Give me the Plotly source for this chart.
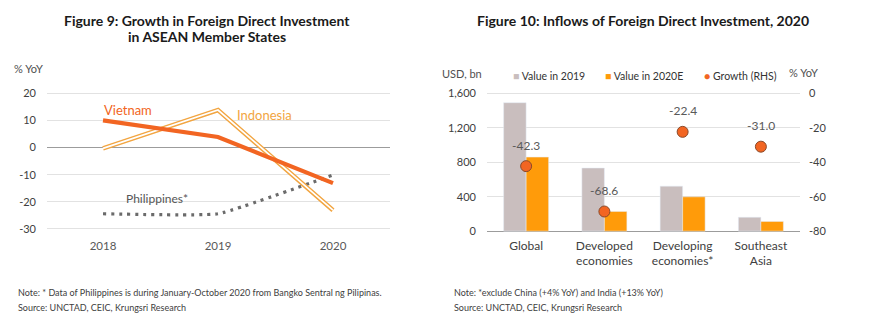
import plotly.graph_objects as go

# ---- Figure 9: FDI growth in ASEAN member states (% YoY) ----
years = ["2018", "2019", "2020"]
vietnam = [10.0, 3.9, -13.1]
indonesia = [-0.3, 13.8, -23.1]
philippines = [-24.4, -24.4, -10.1]
left_ticks = [20, 10, 0, -10, -20, -30]

# ---- Figure 10: FDI inflows 2020 ----
regions = ["Global", "Developed<br>economies", "Developing<br>economies*", "Southeast<br>Asia"]
value_2019 = [1490, 732, 522, 161]
value_2020e = [859, 229, 398, 113]
growth = [-42.3, -68.6, -22.4, -31.0]
bar_ticks = [0, 400, 800, 1200, 1600]
growth_ticks = [0, -20, -40, -60, -80]

W, H = 870, 326
FONT = "Lato"
TICK_COLOR = "#404040"
GRID = "#E2E2E2"
ZERO = "#9C9C9C"

VIETNAM_C = "#F26522"
INDO_C = "#F2A541"
PHIL_C = "#6B6B6B"
BAR19_C = "#C9BEBE"
BAR20_C = "#FF9B0A"
DOT_C = "#F26522"


def px(x):
    return x / W


def py(y):
    return 1 - y / H


def fmt(v):
    # plain hyphen for negatives, thousands separator
    return f"{v:,}"


fig = go.Figure()

# left chart lines
fig.add_trace(go.Scatter(
    x=years, y=philippines, mode="lines", xaxis="x", yaxis="y",
    line=dict(color=PHIL_C, width=3.2, dash="3px,5px", shape="spline", smoothing=0.35),
    showlegend=False, hoverinfo="skip"))
fig.add_trace(go.Scatter(
    x=years, y=indonesia, mode="lines", xaxis="x", yaxis="y",
    line=dict(color=INDO_C, width=4.6), showlegend=False))
fig.add_trace(go.Scatter(
    x=years, y=indonesia, mode="lines", xaxis="x", yaxis="y",
    line=dict(color="white", width=1.7), showlegend=False, hoverinfo="skip"))
fig.add_trace(go.Scatter(
    x=years, y=vietnam, mode="lines", xaxis="x", yaxis="y",
    line=dict(color=VIETNAM_C, width=4.2), showlegend=False))

# right chart bars and growth markers
fig.add_trace(go.Bar(
    x=regions, y=value_2019, name="Value in 2019", marker_color=BAR19_C,
    xaxis="x2", yaxis="y2", showlegend=False))
fig.add_trace(go.Bar(
    x=regions, y=value_2020e, name="Value in 2020E", marker_color=BAR20_C,
    xaxis="x2", yaxis="y2", showlegend=False))
fig.add_trace(go.Scatter(
    x=regions, y=growth, name="Growth (RHS)", mode="markers",
    marker=dict(color=DOT_C, size=11, line=dict(color="#8A4A2A", width=1)),
    xaxis="x2", yaxis="y3", showlegend=False))

tick_font = dict(family=FONT, size=11, color=TICK_COLOR)

annotations = [
    # titles
    dict(text="<b>Figure 9: Growth in Foreign Direct Investment</b>", x=px(207), y=py(15)),
    dict(text="<b>in ASEAN Member States</b>", x=px(207), y=py(31)),
    dict(text="<b>Figure 10: Inflows of Foreign Direct Investment, 2020</b>", x=px(643), y=py(15)),
]
for a in annotations:
    a.update(xref="paper", yref="paper", showarrow=False, xanchor="center", yanchor="middle",
             font=dict(family=FONT, size=14, color="#1A1A1A"))

small = [
    dict(text="% YoY", x=px(12), y=py(64), xanchor="left"),
    dict(text="USD, bn", x=px(440), y=py(70), xanchor="left"),
    dict(text="% YoY", x=px(820), y=py(69), xanchor="right"),
]
for a in small:
    a.update(xref="paper", yref="paper", showarrow=False, yanchor="middle",
             font=dict(family=FONT, size=11, color="#505050"))
annotations += small

# series labels on the left chart
annotations += [
    dict(text="Vietnam", x=-0.01, y=13.9, xref="x", yref="y", xanchor="left",
         font=dict(family=FONT, size=13, color=VIETNAM_C)),
    dict(text="Indonesia", x=1.148, y=12.1, xref="x", yref="y", xanchor="left",
         font=dict(family=FONT, size=13, color=INDO_C)),
    dict(text="Philippines*", x=0.183, y=-18.9, xref="x", yref="y", xanchor="left",
         font=dict(family=FONT, size=12, color="#555555")),
]

# value labels above the growth markers
for r, g in zip(regions, growth):
    annotations.append(dict(text=f"{g:.1f}", x=r, y=g, xref="x2", yref="y3",
                            yshift=21, font=dict(family=FONT, size=12, color="#595959")))

# legend for the right chart
legend_items = [
    (516, "■", BAR19_C, "Value in 2019"),
    (608, "■", BAR20_C, "Value in 2020E"),
    (707, "●", DOT_C, "Growth (RHS)"),
]
for x0, sym, col, label in legend_items:
    annotations.append(dict(
        text=f"<span style='color:{col}'>{sym}</span> {label}",
        x=px(x0 - 5), y=py(72), xref="paper", yref="paper", xanchor="left", yanchor="middle",
        font=dict(family=FONT, size=10.5, color="#333333")))

# notes
note_font = dict(family=FONT, size=9, color="#404040")
notes = [
    ("Note: * Data of Philippines is during January-October 2020 from Bangko Sentral ng Pilipinas.", 16, 296),
    ("Source: UNCTAD, CEIC, Krungsri Research", 16, 311),
    ("Note: *exclude China (+4% YoY) and India (+13% YoY)", 452, 296),
    ("Source: UNCTAD, CEIC, Krungsri Research", 452, 311),
]
for t, x0, y0 in notes:
    annotations.append(dict(text=t, x=px(x0), y=py(y0), xref="paper", yref="paper",
                            xanchor="left", yanchor="middle", font=note_font))

for a in annotations:
    a.setdefault("showarrow", False)

fig.update_layout(
    width=W, height=H,
    margin=dict(l=0, r=0, t=0, b=0),
    paper_bgcolor="white", plot_bgcolor="white",
    barmode="group", bargap=0.425, bargroupgap=0,
    annotations=annotations,
    xaxis=dict(domain=[px(47), px(390)], anchor="y", type="category", range=[-0.487, 2.496],
               showgrid=False, zeroline=False, showline=False, ticks="",
               tickfont=dict(family=FONT, size=11.5, color="#595959"), ticklabelstandoff=6,
               fixedrange=True),
    yaxis=dict(domain=[py(232.8), py(87.2)], anchor="x", range=[-31, 21],
               tickvals=left_ticks, ticktext=[fmt(v) for v in left_ticks],
               showgrid=True, gridcolor=GRID, gridwidth=1,
               zeroline=True, zerolinecolor=ZERO, zerolinewidth=1,
               showline=False, ticks="", tickfont=tick_font, ticklabelstandoff=10),
    xaxis2=dict(domain=[px(487), px(800)], anchor="y2", type="category", range=[-0.5, 3.5],
                showgrid=False, zeroline=False, showline=False, ticks="",
                tickfont=dict(family=FONT, size=12, color=TICK_COLOR), ticklabelstandoff=4),
    yaxis2=dict(domain=[py(233.7), py(88.57)], anchor="x2", range=[-16, 1616],
                tickvals=bar_ticks, ticktext=[fmt(v) for v in bar_ticks],
                showgrid=True, gridcolor=GRID, gridwidth=1,
                zeroline=True, zerolinecolor=ZERO, zerolinewidth=1,
                showline=False, ticks="", tickfont=tick_font, ticklabelstandoff=10),
    yaxis3=dict(overlaying="y2", side="right", anchor="x2", range=[-80.8, 0.8],
                tickvals=growth_ticks, ticktext=[fmt(v) for v in growth_ticks],
                showgrid=False, zeroline=False, showline=False,
                ticks="", tickfont=tick_font, ticklabelstandoff=8),
)

fig.write_html("out.html")
